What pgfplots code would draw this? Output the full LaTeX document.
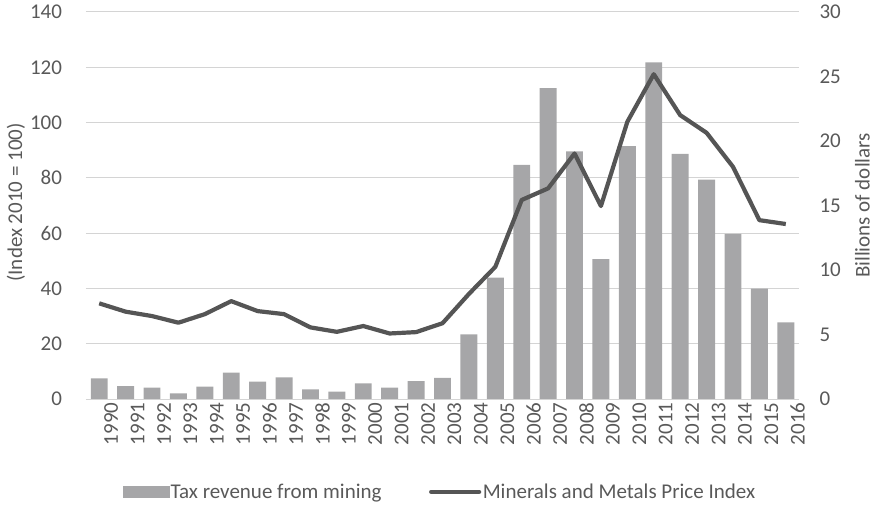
\documentclass[border=0pt]{standalone}
\usepackage{pgfplots}
\pgfplotsset{compat=1.18}
\usepackage{fontspec}
\setmainfont{Carlito}
\definecolor{bargray}{HTML}{A6A6A8}
\definecolor{linegray}{HTML}{555555}
\definecolor{textgray}{HTML}{595959}
\definecolor{gridgray}{HTML}{D4D4D4}
\newcommand{\fs}{\fontsize{21bp}{25bp}\selectfont}
\begin{document}
\begin{tikzpicture}
\pgfplotsset{
  common/.style={
    scale only axis, width=713bp, height=387bp,
    xmin=1989.5, xmax=2016.5,
    /pgf/number format/assume math mode=true,
    tick label style={font=\fs, text=textgray},
    label style={font=\fs, text=textgray},
    major tick length=0pt,
  }
}
% Axis A: left axis, grid, x labels
\begin{axis}[common, name=A,
  ymin=0, ymax=140, ytick={0,20,...,140},
  axis y line*=left, axis x line*=bottom,
  y axis line style={draw=none},
  x axis line style={draw=gridgray, line width=1bp, -},
  ymajorgrids, grid style={draw=gridgray, line width=1bp},
  xtick={1990,...,2016},
  xticklabel style={rotate=90, anchor=east, /pgf/number format/1000 sep={}, yshift=-12bp},
  yticklabel style={xshift=-20.5bp},
  ylabel={(Index 2010 = 100)},
  ylabel style={at={(axis description cs:-0.0982,0.508)}, anchor=center, rotate=0},
]
\end{axis}
% Axis B: bars, right axis
\begin{axis}[common,
  ymin=0, ymax=30, ytick={0,5,...,30},
  axis y line*=right, axis x line=none,
  y axis line style={draw=none},
  yticklabel style={xshift=17bp},
  ylabel={Billions of dollars},
  ylabel style={at={(axis description cs:1.0891,0.5)}, anchor=center},
]
\addplot[ybar, bar width=0.64, fill=bargray, draw=none] coordinates {
(1990,1.60) (1991,0.99) (1992,0.88) (1993,0.44) (1994,0.95)
(1995,2.04) (1996,1.34) (1997,1.68) (1998,0.75) (1999,0.57)
(2000,1.22) (2001,0.88) (2002,1.39) (2003,1.63) (2004,5.01)
(2005,9.40) (2006,18.15) (2007,24.10) (2008,19.20) (2009,10.85)
(2010,19.60) (2011,26.10) (2012,19.00) (2013,17.00) (2014,12.80)
(2015,8.55) (2016,5.94)
};
\end{axis}
% Axis C: line, left axis, legend
\begin{axis}[common,
  ymin=0, ymax=140, hide axis,
  legend style={draw=none, fill=none, at={(0.496,-0.240)}, anchor=center,
    legend columns=2, font=\fs, text=textgray,
    /tikz/every even column/.append style={column sep=46bp},
    nodes={inner sep=1.5bp}},
]
\addlegendimage{legend image code/.code={\fill[bargray] (0bp,-5.5bp) rectangle (46bp,5.5bp);}}
\addlegendentry{Tax revenue from mining}
\addplot[draw=linegray, line width=4.2bp, line join=round, mark=none,
  legend image code/.code={\draw[linegray, line width=4.2bp, line cap=round] (0bp,0bp) -- (48bp,0bp);}] coordinates {
(1990,34.6) (1991,31.6) (1992,30.0) (1993,27.6) (1994,30.7)
(1995,35.4) (1996,31.8) (1997,30.7) (1998,25.9) (1999,24.3)
(2000,26.4) (2001,23.7) (2002,24.2) (2003,27.4) (2004,38.0)
(2005,47.8) (2006,72.0) (2007,76.2) (2008,88.8) (2009,69.8)
(2010,100.3) (2011,117.5) (2012,102.7) (2013,96.3) (2014,84.0)
(2015,64.7) (2016,63.3)
};
\addlegendentry{Minerals and Metals Price Index}
\end{axis}
\path ([shift={(-86bp,-106bp)}]A.south west) rectangle ([shift={(80bp,12bp)}]A.north east);
\end{tikzpicture}
\end{document}
